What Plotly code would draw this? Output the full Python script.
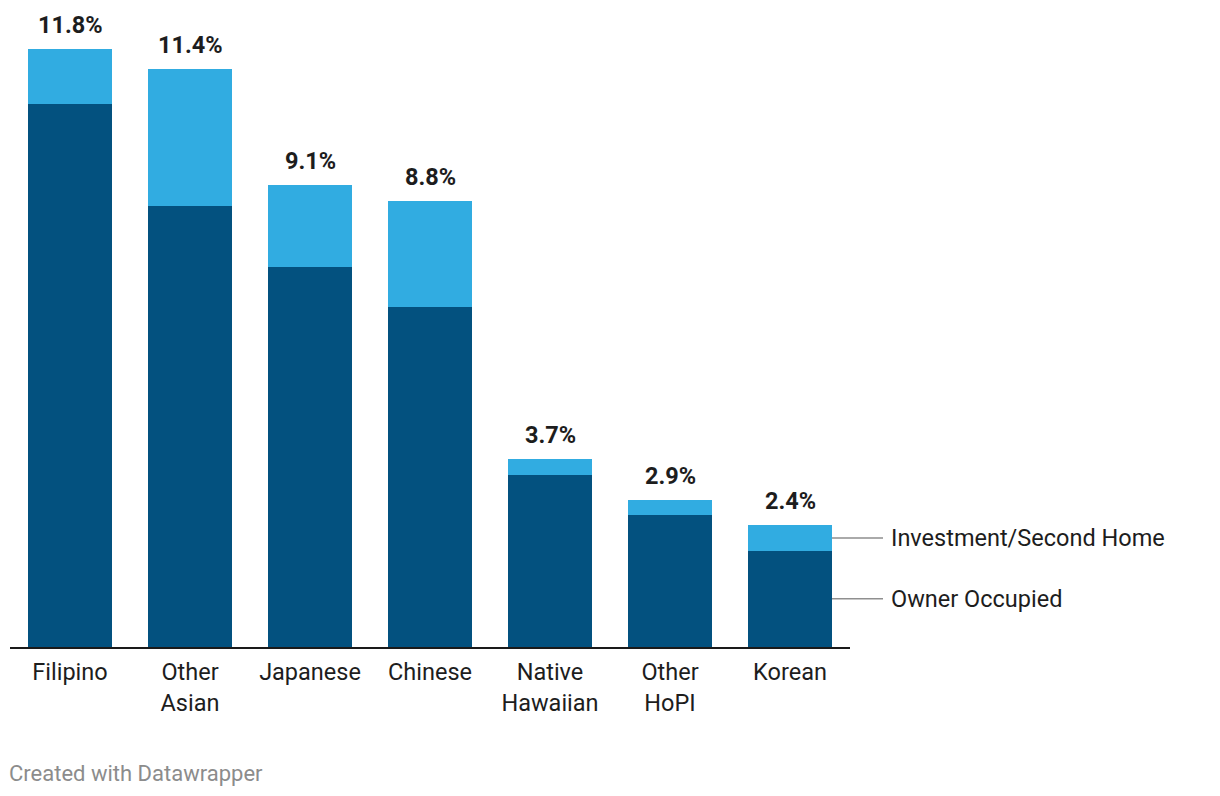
import plotly.graph_objects as go

categories = ["Filipino", "Other<br>Asian", "Japanese", "Chinese", "Native<br>Hawaiian", "Other<br>HoPI", "Korean"]
owner_occupied = [10.7, 8.7, 7.5, 6.7, 3.4, 2.6, 1.9]
investment = [1.1, 2.7, 1.6, 2.1, 0.3, 0.3, 0.5]
totals = [11.8, 11.4, 9.1, 8.8, 3.7, 2.9, 2.4]
total_labels = ["11.8%", "11.4%", "9.1%", "8.8%", "3.7%", "2.9%", "2.4%"]
series_names = ["Owner Occupied", "Investment/Second Home"]

DARK = "#03517F"
LIGHT = "#31ACE1"
FONT = "Roboto"
TXT = "#1d1d1d"
FS = 23.5

x_idx = list(range(len(categories)))

fig = go.Figure()
fig.add_trace(go.Bar(x=x_idx, y=owner_occupied, name=series_names[0],
                     marker=dict(color=DARK, line=dict(width=0)), width=0.7))
fig.add_trace(go.Bar(x=x_idx, y=investment, name=series_names[1],
                     marker=dict(color=LIGHT, line=dict(width=0)), width=0.7))

annotations = []
for i, (t, lab) in enumerate(zip(totals, total_labels)):
    annotations.append(dict(x=i, y=t, text=f"<b>{lab}</b>", showarrow=False,
                            yanchor="bottom", yshift=8,
                            font=dict(family=FONT, size=FS, color=TXT)))

last = len(categories) - 1
legend_y = [owner_occupied[last] / 2, owner_occupied[last] + investment[last] / 2]
for name, yv in zip(series_names, legend_y):
    annotations.append(dict(x=last + 0.35, y=yv, text=name, showarrow=True,
                            arrowhead=0, arrowwidth=1.5, arrowcolor="#8f8f8f",
                            ax=51, ay=0, xanchor="left", borderpad=7,
                            font=dict(family=FONT, size=FS, color=TXT)))

annotations.append(dict(xref="paper", yref="paper", x=0, y=-0.2, xanchor="left",
                        yanchor="middle", text="Created with Datawrapper",
                        showarrow=False, xshift=-3,
                        font=dict(family=FONT, size=22, color="#8c8c8c")))

fig.update_layout(
    barmode="stack",
    width=1220, height=796,
    margin=dict(l=10, r=370, t=13, b=149),
    paper_bgcolor="white", plot_bgcolor="white",
    showlegend=False,
    annotations=annotations,
    xaxis=dict(tickmode="array", tickvals=x_idx, ticktext=categories,
               range=[-0.5, len(categories) - 0.5],
               showline=True, linecolor="#1a1a1a", linewidth=2,
               showgrid=False, zeroline=False, ticks="",
               ticklabelstandoff=3,
               tickfont=dict(family=FONT, size=FS, color=TXT)),
    yaxis=dict(range=[0, 12.5], visible=False, showgrid=False, zeroline=False),
    font=dict(family=FONT),
)

fig.write_html("out.html", config={"displayModeBar": False},
               post_script="document.body.style.margin='0';")
